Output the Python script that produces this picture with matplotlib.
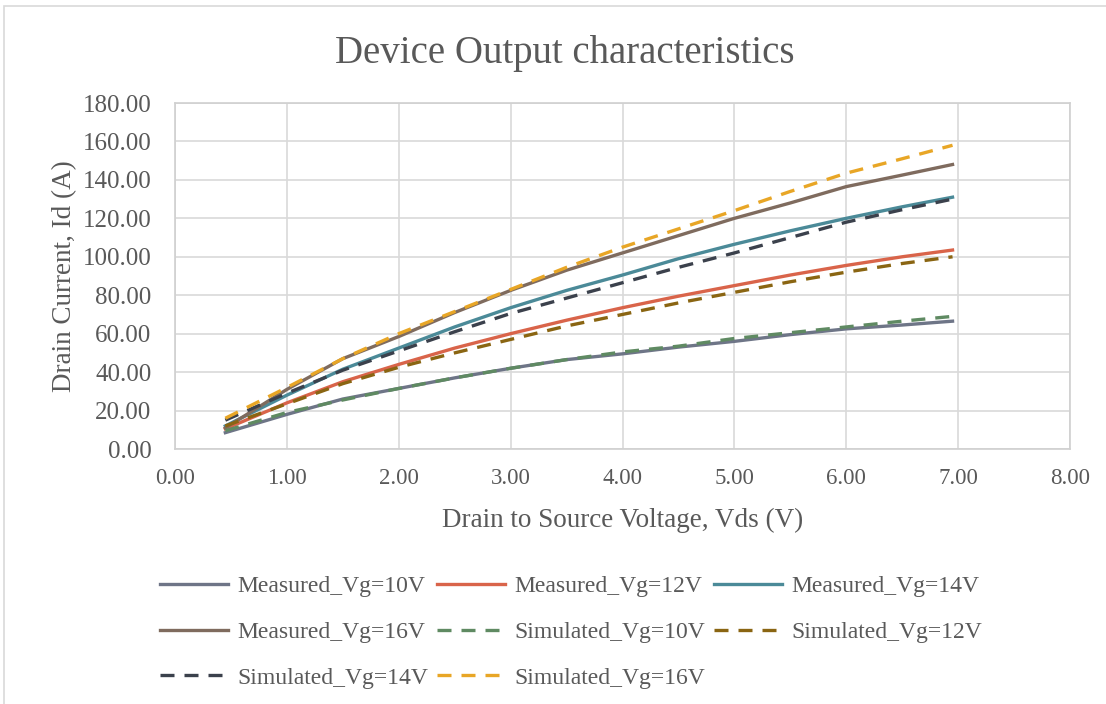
import matplotlib
matplotlib.use("Agg")
import matplotlib.pyplot as plt
from matplotlib.patches import Rectangle
from matplotlib.ticker import FormatStrFormatter

plt.rcParams["font.family"] = ["Liberation Serif", "DejaVu Serif"]

# drain to source voltage (V)
vds = [0.45, 1.0, 1.5, 2.0, 2.5, 3.0, 3.5, 4.0, 4.5, 5.0, 5.5, 6.0, 6.5, 6.95]

# drain current (A)
measured_10 = [8.5, 18, 26, 31.5, 37, 42, 46.5, 49.5, 53, 56, 59.5, 62.5, 64.5, 66.5]
measured_12 = [10.5, 24, 35, 44, 52.5, 60, 67, 73.5, 79.5, 85, 90.5, 95.5, 100, 103.5]
measured_14 = [12, 28, 41.5, 52.5, 63.5, 73.5, 82.5, 90.5, 99, 106.5, 113.5, 120, 126, 131]
measured_16 = [11, 31, 47, 58.5, 71, 82.5, 93, 102, 111, 120, 128, 136.5, 142.5, 148]
simulated_10 = [9.5, 19, 25.5, 31.5, 37, 42, 46.5, 50.5, 53.5, 57.5, 60.5, 63.5, 66.5, 69]
simulated_12 = [12, 23.5, 34, 42.5, 50, 57, 64, 70, 76, 81.5, 87, 92, 96.5, 100]
simulated_14 = [15, 29, 41, 51, 61, 70.5, 78.5, 86.5, 94.5, 102, 110, 118, 124.5, 130]
simulated_16 = [16, 32, 47, 60, 71.5, 83, 94.5, 105, 114.5, 124, 134, 143.5, 151, 158]

series = [
	("Measured_Vg=10V", measured_10, "#6e7587", "-"),
	("Measured_Vg=12V", measured_12, "#d9644a", "-"),
	("Measured_Vg=14V", measured_14, "#4b8a98", "-"),
	("Measured_Vg=16V", measured_16, "#7f6b5e", "-"),
	("Simulated_Vg=10V", simulated_10, "#5f8a62", "--"),
	("Simulated_Vg=12V", simulated_12, "#8a6512", "--"),
	("Simulated_Vg=14V", simulated_14, "#3b414c", "--"),
	("Simulated_Vg=16V", simulated_16, "#e8a626", "--"),
]

text_color = "#595959"
grid_color = "#d9d9d9"

fig = plt.figure(figsize=(11.06, 7.04), dpi=100)
# thin chart border like the excel chart area
fig.patches.append(Rectangle((4 / 1106, -0.1), 1.2, 1.1 - 6 / 704, transform=fig.transFigure,
	fill=False, edgecolor="#d9d9d9", linewidth=1.2))

ax = fig.add_axes([175 / 1106, 1 - 449 / 704, (1070 - 175) / 1106, (449 - 103) / 704])

handles = {}
for label, values, color, style in series:
	line, = ax.plot(vds, values, linestyle=style, color=color, linewidth=2.4, label=label)
	if style == "--":
		line.set_dashes((4.2, 3))
	handles[label] = line

ax.set_xlim(0, 8)
ax.set_ylim(0, 180)
ax.set_xticks([0, 1, 2, 3, 4, 5, 6, 7, 8])
ax.set_yticks(range(0, 181, 20))
ax.xaxis.set_major_formatter(FormatStrFormatter("%.2f"))
ax.yaxis.set_major_formatter(FormatStrFormatter("%.2f"))
ax.tick_params(axis="both", length=0, colors=text_color)
ax.tick_params(axis="y", labelsize=18, pad=17)
ax.tick_params(axis="x", labelsize=16.5, pad=14)
ax.grid(True, color=grid_color, linewidth=1.2)
ax.set_axisbelow(True)
for spine in ax.spines.values():
	spine.set_color("#d0d0d0")
	spine.set_linewidth(1.2)

ax.set_xlabel("Drain to Source Voltage, Vds (V)", fontsize=19.5, color=text_color, labelpad=13)
ax.set_ylabel("Drain Current, Id (A)", fontsize=19.5, color=text_color, labelpad=4)
fig.text(565 / 1106, 1 - 54 / 704, "Device Output characteristics", fontsize=28, color=text_color,
	ha="center", va="center")

# excel fills legend row by row, matplotlib column by column
order = ["Measured_Vg=10V", "Measured_Vg=16V", "Simulated_Vg=14V",
	"Measured_Vg=12V", "Simulated_Vg=10V", "Simulated_Vg=16V",
	"Measured_Vg=14V", "Simulated_Vg=12V"]
leg = fig.legend([handles[k] for k in order], order, loc="upper left",
	bbox_to_anchor=(148 / 1106, 1 - 564 / 704), ncol=3, frameon=False, fontsize=17,
	handlelength=2.9, handletextpad=0.4, columnspacing=0.35, labelspacing=1.02, borderpad=0)
for text in leg.get_texts():
	text.set_color(text_color)

plt.savefig("out.png", dpi=100)
